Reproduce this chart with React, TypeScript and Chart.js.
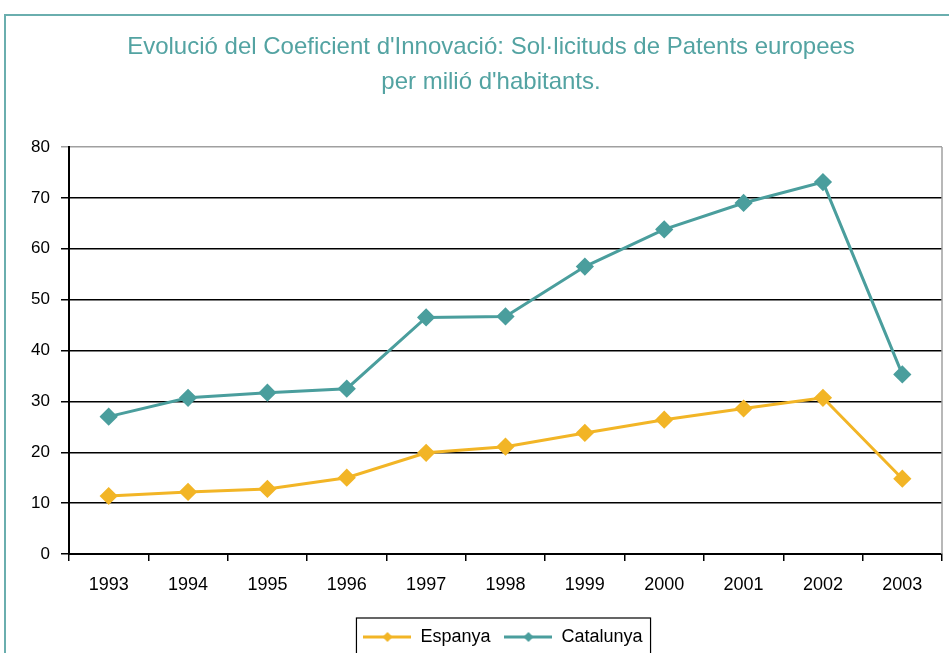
import React, { useEffect, useRef } from "react";
import { Chart, registerables } from "chart.js";

Chart.register(...registerables);

const years = ["1993", "1994", "1995", "1996", "1997", "1998", "1999", "2000", "2001", "2002", "2003"];
const espanya = [11.4, 12.2, 12.8, 15.0, 19.9, 21.1, 23.8, 26.4, 28.6, 30.7, 14.8];
const catalunya = [27.0, 30.7, 31.7, 32.5, 46.5, 46.7, 56.5, 63.8, 69.0, 73.1, 35.3];
const titleLines = [
  "Evolució del Coeficient d'Innovació: Sol·licituds de Patents europees",
  "per milió d'habitants.",
];
const yTicks = [0, 10, 20, 30, 40, 50, 60, 70, 80];

const TEAL = "#4a9e9d";
const YELLOW = "#f2b526";
const FONT = "'Liberation Sans', Arial, sans-serif";

function legendIcon(color: string): HTMLCanvasElement {
  const c = document.createElement("canvas");
  c.width = 48;
  c.height = 14;
  const ctx = c.getContext("2d")!;
  ctx.strokeStyle = color;
  ctx.lineWidth = 3;
  ctx.beginPath();
  ctx.moveTo(0, 7);
  ctx.lineTo(48, 7);
  ctx.stroke();
  ctx.fillStyle = color;
  ctx.beginPath();
  ctx.moveTo(24, 2);
  ctx.lineTo(29, 7);
  ctx.lineTo(24, 12);
  ctx.lineTo(19, 7);
  ctx.closePath();
  ctx.fill();
  return c;
}

const framePlugin = {
  id: "framePlugin",
  afterLayout(chart: any) {
    const t = chart.titleBlock;
    if (t) {
      t.left += 20;
      t.right += 20;
    }
    const lg = chart.legend;
    if (lg) {
      lg.left += 32;
      lg.right += 32;
    }
  },
  beforeDatasetsDraw(chart: any) {
    const { ctx, chartArea } = chart;
    ctx.save();
    ctx.strokeStyle = "#a0a0a0";
    ctx.lineWidth = 1.5;
    ctx.beginPath();
    ctx.moveTo(chartArea.right, chartArea.top);
    ctx.lineTo(chartArea.right, chartArea.bottom);
    ctx.stroke();
    ctx.restore();
  },
  afterDraw(chart: any) {
    const lg = chart.legend;
    if (!lg || !lg.legendHitBoxes || !lg.legendHitBoxes.length) return;
    const hb = lg.legendHitBoxes;
    const left = hb[0].left - 7;
    const last = hb[hb.length - 1];
    const right = last.left + last.width + 8;
    const { ctx } = chart;
    ctx.save();
    ctx.strokeStyle = "#000";
    ctx.lineWidth = 1.2;
    ctx.strokeRect(left, lg.top + 4, right - left, chart.height);
    ctx.restore();
  },
};

export default function App() {
  const ref = useRef<HTMLCanvasElement | null>(null);
  useEffect(() => {
    if (!ref.current) return;
    const icons = [legendIcon(YELLOW), legendIcon(TEAL)];
    const chart = new Chart(ref.current, {
      type: "line",
      data: {
        labels: years,
        datasets: [
          {
            label: "Espanya",
            data: espanya,
            borderColor: YELLOW,
            backgroundColor: YELLOW,
            borderWidth: 3,
            pointStyle: "rectRot",
            pointRadius: 7,
            pointBackgroundColor: YELLOW,
            pointBorderColor: YELLOW,
            tension: 0,
          },
          {
            label: "Catalunya",
            data: catalunya,
            borderColor: TEAL,
            backgroundColor: TEAL,
            borderWidth: 3,
            pointStyle: "rectRot",
            pointRadius: 7,
            pointBackgroundColor: TEAL,
            pointBorderColor: TEAL,
            tension: 0,
          },
        ],
      },
      plugins: [framePlugin],
      options: {
        animation: false,
        responsive: false,
        layout: { autoPadding: false, padding: { left: 0, right: 7, top: 0, bottom: 0 } },
        plugins: {
          title: {
            display: true,
            text: titleLines,
            color: "#53a3a2",
            font: { family: FONT, size: 24, weight: "normal", lineHeight: "35px" as any },
            padding: { top: 29.5, bottom: 47.5 },
          },
          legend: {
            display: true,
            position: "bottom",
            labels: {
              usePointStyle: true,
              pointStyleWidth: 48,
              padding: 14,
              color: "#000",
              font: { family: FONT, size: 18 },
              generateLabels: (c: any) =>
                c.data.datasets.map((d: any, i: number) => ({
                  text: d.label,
                  pointStyle: icons[i],
                  fillStyle: d.borderColor,
                  strokeStyle: d.borderColor,
                  lineWidth: 0,
                  hidden: false,
                  datasetIndex: i,
                  fontColor: "#000",
                })),
            },
          },
          tooltip: { enabled: false },
        },
        scales: {
          x: {
            offset: true,
            grid: {
              offset: true,
              drawOnChartArea: false,
              drawTicks: true,
              tickLength: 7,
              color: "#000",
              lineWidth: 1.5,
            },
            border: { color: "#000", width: 2 },
            ticks: { color: "#000", padding: 13, font: { family: FONT, size: 18 }, maxRotation: 0 },
            afterFit: (s: any) => {
              s.height = 60;
              s.paddingLeft = 0;
              s.paddingRight = 0;
            },
          },
          y: {
            min: 0,
            max: 80,
            afterBuildTicks: (s: any) => {
              s.ticks = yTicks.map((v) => ({ value: v }));
            },
            grid: {
              color: (c: any) => (c.tick && c.tick.value === 80 ? "#a0a0a0" : "#000"),
              lineWidth: 1.5,
              tickLength: 8,
              drawTicks: true,
            },
            border: { color: "#000", width: 2 },
            ticks: { color: "#000", padding: 11, font: { family: FONT, size: 17 } },
            afterFit: (s: any) => {
              s.width = 69;
              s.paddingTop = 0;
              s.paddingBottom = 0;
            },
          },
        },
      },
    });
    return () => chart.destroy();
  }, []);

  return (
    <div style={{ position: "absolute", left: 0, top: 0, width: 949, height: 653, overflow: "hidden", background: "#fff" }}>
      <div
        style={{
          position: "absolute",
          left: 4,
          top: 14,
          width: 980,
          height: 700,
          borderLeft: "2px solid #6aaeae",
          borderTop: "2px solid #6aaeae",
        }}
      />
      <canvas ref={ref} width={949} height={656} style={{ position: "absolute", left: 0, top: 0, width: 949, height: 656 }} />
    </div>
  );
}
